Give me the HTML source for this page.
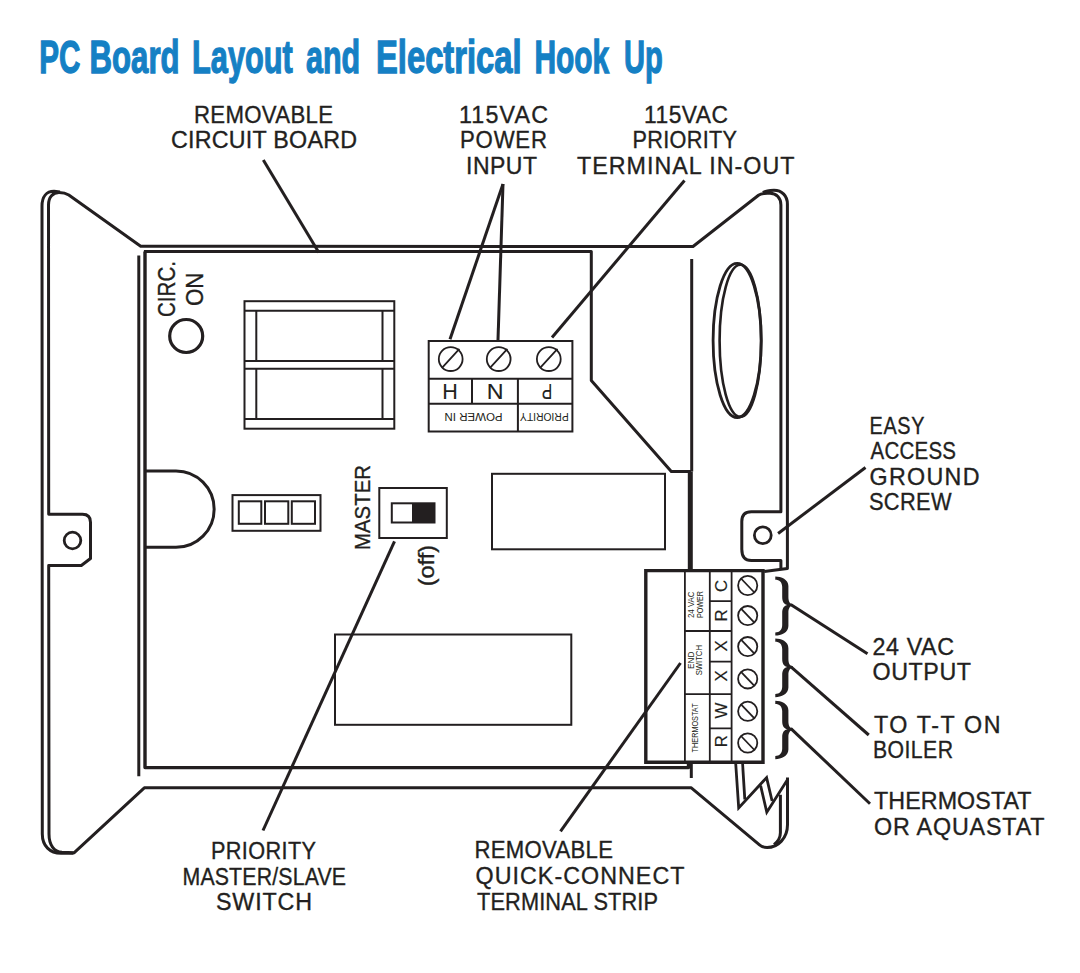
<!DOCTYPE html>
<html><head><meta charset="utf-8"><title>PC Board Layout and Electrical Hook Up</title>
<style>
html,body{margin:0;padding:0;background:#ffffff;overflow:hidden}
svg{display:block}
text{font-family:"Liberation Sans",sans-serif;fill:#231f20;stroke:#231f20;stroke-width:0.35px}
text.sm{stroke-width:0}
</style></head><body>
<svg width="1080" height="973" viewBox="0 0 1080 973">

<g fill="none" stroke="#231f20" stroke-width="3" stroke-linejoin="round" stroke-linecap="butt">
 <!-- left tab outer line -->
 <path d="M42.3,834 L42,206 C42,196.5 46.5,191.3 54,191.3 L60,192"/>
 <path d="M42.3,834 C42.3,846 50,853.3 61,853.3 L73.5,853.3"/>
 <!-- main outline: left inner, top diagonal, top, right diagonal, right inner, ground tab -->
 <path d="M49,834 L48.7,565.5 L81.3,565.5 L90.5,558.5 L90.5,522.3 Q90.5,514.3 82.5,514.3 L48.7,514.3 L48.5,205 C48.5,197 53,192.6 59,192.6 C63,192.6 66,193.3 68.8,195 L140.7,246.3 L693,246.5 L758.5,195.2 C762,192.8 765.5,193.3 770,193.3 C776.5,193.3 780.9,198 780.9,205 L780.9,511.7 L751.3,511.7 Q741.8,511.7 741.8,521.5 L741.8,549.2 Q741.8,560.5 751.3,560.5 L780.9,560.5 L780.9,569.5"/>
 <path d="M763,192.5 C766,190.5 770,190.2 774,190.2 C782,190.2 787.4,196 787.4,204 L787.4,568.6 L764.2,571.4"/>
 <!-- bottom outer -->
 <path d="M49,834 C49,845 54,851.7 62,852.3 L74,852.8 L144.3,787.8 L691.3,787.8 L759.5,844.8 C762,846.8 764.5,847.6 767.1,847.6 C778,847.6 787.5,838 787.5,824.7 L787.5,777.4"/>
 <path d="M780.4,794.8 L780.4,832.7 C780.4,837 778,841.5 774,844.6"/>
 <!-- left tab with hole -->
 <circle cx="72.5" cy="540.5" r="8.3" stroke-width="2.8"/>
 <circle cx="762.8" cy="535.3" r="8.4" stroke-width="2.8"/>
 <!-- board -->
 <path d="M143.9,251.6 L591.3,251.6 L591.3,380.5 L671.3,471.5 L691,471.5"/>
 <path d="M690.3,471.5 L690.3,570.5" stroke-width="5"/>
 <path d="M145,251.6 L145,767.6 L688.5,767.6 L688.5,762" stroke-width="3.4"/>
 <path d="M691.7,259 L691.7,471.5"/>
 <path d="M138.8,255.5 L138.8,776.3"/>
 <path d="M691.3,762 L691.3,778"/>
 <!-- circ on -->
 <circle cx="186.2" cy="336" r="16.5" stroke-width="3.2"/>
 <!-- D bump -->
 <path d="M145,471 L176,471 A38,38 0 0 1 176,547.3 L145,547.3"/>
 <!-- ellipses -->
 <ellipse cx="737.15" cy="340.5" rx="24.05" ry="77.1" stroke-width="2.8"/>
 <ellipse cx="740.4" cy="340.8" rx="20.8" ry="76" stroke-width="2.6"/>
</g>
<g fill="none" stroke="#231f20" stroke-width="2" stroke-linejoin="miter">
 <!-- relay -->
 <rect x="244.5" y="301.2" width="149.8" height="127.5"/>
 <path d="M244.5,310.7 H394.3 M244.5,361 H394.3 M244.5,368.8 H394.3 M244.5,418.9 H394.3 M256.3,310.7 V361 M256.3,368.8 V418.9 M382.5,310.7 V361 M382.5,368.8 V418.9"/>
 <!-- small connector -->
 <rect x="232.5" y="495.1" width="88" height="35.7"/>
 <rect x="238.8" y="501.3" width="22.5" height="22.5"/>
 <rect x="265" y="501.3" width="23.3" height="22.5"/>
 <rect x="291.8" y="501.3" width="23.2" height="22.5"/>
 <!-- master switch -->
 <rect x="379.3" y="488" width="67.5" height="50"/>
 <rect x="391.8" y="503.3" width="42.7" height="19.2"/>
 <!-- rects -->
 <rect x="492" y="473.8" width="173" height="75.5"/>
 <rect x="335" y="634.5" width="236.3" height="90.3"/>
 <!-- 115 block -->
 <rect x="428.7" y="341" width="143.7" height="90.5"/>
 <path d="M428.7,378.8 H572.4 M428.7,403.7 H572.4 M472,378.8 V403.7 M517.9,378.8 V431.5"/>
 <circle cx="450.7" cy="359.1" r="11.9" stroke-width="1.8"/>
 <circle cx="498.7" cy="359.1" r="11.9" stroke-width="1.8"/>
 <circle cx="548.8" cy="359.1" r="11.9" stroke-width="1.8"/>
 <path d="M442,367.8 L459.4,348.9 M490,367.8 L507.4,348.9 M540.1,367.8 L557.5,348.9" stroke-width="1.8"/>
 <!-- strip inner -->
 <path d="M684.9,570.5 V762 M709.8,570.5 V762 M731.6,570.5 V762" stroke-width="1.8"/>
 <path d="M709.8,601.2 H731.6 M684.9,631 H731.6 M709.8,661.7 H731.6 M684.9,694.2 H731.6 M709.8,728.3 H731.6" stroke-width="1.8"/>
</g>
<rect x="412" y="503.3" width="22.5" height="19.2" fill="#231f20"/>
<!-- strip outer -->
<path d="M645.8,762.2 L645.8,570.6 L763,570.6 L763,762.2 Z" fill="none" stroke="#231f20" stroke-width="3.4"/>
<!-- strip screws -->
<g fill="none" stroke="#231f20" stroke-width="1.8">
 <circle cx="747.7" cy="585.5" r="9.6"/>
 <path d="M741,578.5 L754.4,592.5"/>
 <circle cx="747.7" cy="615.6" r="9.6"/>
 <path d="M741,608.6 L754.4,622.6"/>
 <circle cx="747.7" cy="646.6" r="9.6"/>
 <path d="M741,639.6 L754.4,653.6"/>
 <circle cx="747.7" cy="678.9" r="9.6"/>
 <path d="M741,671.9 L754.4,685.9"/>
 <circle cx="747.7" cy="711.3" r="9.6"/>
 <path d="M741,704.3 L754.4,718.3"/>
 <circle cx="747.7" cy="743" r="9.6"/>
 <path d="M741,736.0 L754.4,750.0"/>
</g>
<path d="M775.3,576.5 C781.3,576.5 788.4,579.6 788.4,586.1 L788.4,596.9 C788.4,601.4 789.9,603.9 792.6,604.0 L792.6,605.8 C789.9,605.9 788.4,608.4 788.4,612.9 L788.4,626 C788.4,632.5 781.3,635.6 775.3,635.6 L775.3,632.4 C779.3,632.4 782.2,630 782.2,625 L782.2,612.9 C782.2,607.9 784.2,605.5 787.6,604.9 C784.2,604.3 782.2,601.9 782.2,596.9 L782.2,587.1 C782.2,582.1 779.3,579.7 775.3,579.7 Z" fill="#231f20"/>
<path d="M775.3,638.6 C781.3,638.6 788.4,641.7 788.4,648.2 L788.4,659 C788.4,663.5 789.9,666 792.6,666.1 L792.6,667.9 C789.9,668 788.4,670.5 788.4,675 L788.4,687.6 C788.4,694.1 781.3,697.2 775.3,697.2 L775.3,694.0 C779.3,694.0 782.2,691.6 782.2,686.6 L782.2,675 C782.2,670 784.2,667.6 787.6,667 C784.2,666.4 782.2,664 782.2,659 L782.2,649.2 C782.2,644.2 779.3,641.8000000000001 775.3,641.8000000000001 Z" fill="#231f20"/>
<path d="M775.3,700.6999999999999 C781.3,700.6999999999999 788.4,703.8 788.4,710.3 L788.4,721.3 C788.4,725.8 789.9,728.3 792.6,728.4 L792.6,730.1999999999999 C789.9,730.3 788.4,732.8 788.4,737.3 L788.4,749.6 C788.4,756.1 781.3,759.2 775.3,759.2 L775.3,756.0 C779.3,756.0 782.2,753.6 782.2,748.6 L782.2,737.3 C782.2,732.3 784.2,729.9 787.6,729.3 C784.2,728.6999999999999 782.2,726.3 782.2,721.3 L782.2,711.3 C782.2,706.3 779.3,703.9 775.3,703.9 Z" fill="#231f20"/>
<g stroke="#231f20" stroke-width="3" stroke-linecap="butt" fill="none">
 <line x1="263.3" y1="160" x2="318.8" y2="252.5"/>
 <line x1="503" y1="184" x2="450" y2="339.3"/>
 <line x1="503" y1="184" x2="498" y2="340"/>
 <line x1="684.5" y1="180.5" x2="552" y2="337.5"/>
 <line x1="865.5" y1="467.5" x2="778.1" y2="533.5"/>
 <line x1="790.7" y1="604.5" x2="867.5" y2="653.75"/>
 <line x1="790.7" y1="666.6" x2="868.75" y2="735"/>
 <line x1="790.7" y1="728.3" x2="870" y2="803.75"/>
 <line x1="394.5" y1="541.3" x2="263" y2="830.5"/>
 <line x1="680.5" y1="663" x2="560.5" y2="831.3"/>
</g>
<g fill="none" stroke="#231f20" stroke-width="2.8" stroke-linejoin="miter" stroke-miterlimit="10">
 <path d="M735.6,762 L738.7,808 L766.6,777.6 L772.1,801"/>
 <path d="M742.5,762 L744.8,799.5"/>
 <path d="M760.6,785.6 L766.8,812.2 L787.6,779.4"/>
</g>

<text x="39.20" y="72.60" font-size="46.5" textLength="41.20" lengthAdjust="spacingAndGlyphs" font-weight="bold" style="fill:#1580c4;stroke:#1580c4;stroke-width:1.3px">PC</text>
<text x="89.60" y="72.60" font-size="46.5" textLength="90.00" lengthAdjust="spacingAndGlyphs" font-weight="bold" style="fill:#1580c4;stroke:#1580c4;stroke-width:1.3px">Board</text>
<text x="192.00" y="72.60" font-size="46.5" textLength="100.80" lengthAdjust="spacingAndGlyphs" font-weight="bold" style="fill:#1580c4;stroke:#1580c4;stroke-width:1.3px">Layout</text>
<text x="306.00" y="72.60" font-size="46.5" textLength="54.20" lengthAdjust="spacingAndGlyphs" font-weight="bold" style="fill:#1580c4;stroke:#1580c4;stroke-width:1.3px">and</text>
<text x="376.00" y="72.60" font-size="46.5" textLength="145.60" lengthAdjust="spacingAndGlyphs" font-weight="bold" style="fill:#1580c4;stroke:#1580c4;stroke-width:1.3px">Electrical</text>
<text x="534.40" y="72.60" font-size="46.5" textLength="74.80" lengthAdjust="spacingAndGlyphs" font-weight="bold" style="fill:#1580c4;stroke:#1580c4;stroke-width:1.3px">Hook</text>
<text x="624.00" y="72.60" font-size="46.5" textLength="38.80" lengthAdjust="spacingAndGlyphs" font-weight="bold" style="fill:#1580c4;stroke:#1580c4;stroke-width:1.3px">Up</text>
<text transform="translate(194.00,123.00) scale(0.9245422796063075,1)" x="0" y="0" font-size="24" textLength="150.34" lengthAdjust="spacing">REMOVABLE</text>
<text transform="translate(171.00,148.00) scale(0.97,1)" x="0" y="0" font-size="24" textLength="191.75" lengthAdjust="spacing">CIRCUIT BOARD</text>
<text transform="translate(459.00,123.00) scale(0.97,1)" x="0" y="0" font-size="24" textLength="91.75" lengthAdjust="spacing">115VAC</text>
<text transform="translate(460.00,148.00) scale(0.9251550654720879,1)" x="0" y="0" font-size="24" textLength="94.04" lengthAdjust="spacing">POWER</text>
<text transform="translate(466.00,173.75) scale(0.9583333333333334,1)" x="0" y="0" font-size="24" textLength="74.09" lengthAdjust="spacing">INPUT</text>
<text transform="translate(644.00,123.00) scale(0.9495721827780812,1)" x="0" y="0" font-size="24" textLength="88.46" lengthAdjust="spacing">115VAC</text>
<text transform="translate(632.50,148.00) scale(0.9019986216402481,1)" x="0" y="0" font-size="24" textLength="115.85" lengthAdjust="spacing">PRIORITY</text>
<text transform="translate(577.00,173.75) scale(0.97,1)" x="0" y="0" font-size="24" textLength="224.23" lengthAdjust="spacing">TERMINAL IN-OUT</text>
<text transform="translate(869.50,434.25) scale(0.8273170731707317,1)" x="0" y="0" font-size="24" textLength="66.48" lengthAdjust="spacing">EASY</text>
<text transform="translate(870.50,459.25) scale(0.853434631212409,1)" x="0" y="0" font-size="24" textLength="100.18" lengthAdjust="spacing">ACCESS</text>
<text transform="translate(869.50,485.00) scale(0.97,1)" x="0" y="0" font-size="24" textLength="113.40" lengthAdjust="spacing">GROUND</text>
<text transform="translate(869.00,510.00) scale(0.9094088842252536,1)" x="0" y="0" font-size="24" textLength="90.72" lengthAdjust="spacing">SCREW</text>
<text transform="translate(872.50,655.00) scale(0.97,1)" x="0" y="0" font-size="24" textLength="84.02" lengthAdjust="spacing">24 VAC</text>
<text transform="translate(872.50,680.00) scale(0.97,1)" x="0" y="0" font-size="24" textLength="101.55" lengthAdjust="spacing">OUTPUT</text>
<text transform="translate(874.00,732.50) scale(0.97,1)" x="0" y="0" font-size="24" textLength="130.41" lengthAdjust="spacing">TO T-T ON</text>
<text transform="translate(873.00,758.25) scale(0.8858917480035492,1)" x="0" y="0" font-size="24" textLength="90.30" lengthAdjust="spacing">BOILER</text>
<text transform="translate(874.00,809.25) scale(0.9689009078616959,1)" x="0" y="0" font-size="24" textLength="162.56" lengthAdjust="spacing">THERMOSTAT</text>
<text transform="translate(874.00,835.00) scale(0.97,1)" x="0" y="0" font-size="24" textLength="175.77" lengthAdjust="spacing">OR AQUASTAT</text>
<text transform="translate(211.00,858.75) scale(0.9042039972432805,1)" x="0" y="0" font-size="24" textLength="116.12" lengthAdjust="spacing">PRIORITY</text>
<text transform="translate(182.50,884.50) scale(0.8871368583426172,1)" x="0" y="0" font-size="24" textLength="184.30" lengthAdjust="spacing">MASTER/SLAVE</text>
<text transform="translate(216.00,910.00) scale(0.97,1)" x="0" y="0" font-size="24" textLength="98.97" lengthAdjust="spacing">SWITCH</text>
<text transform="translate(474.50,858.25) scale(0.9228489787279077,1)" x="0" y="0" font-size="24" textLength="150.08" lengthAdjust="spacing">REMOVABLE</text>
<text transform="translate(475.50,883.75) scale(0.97,1)" x="0" y="0" font-size="24" textLength="215.46" lengthAdjust="spacing">QUICK-CONNECT</text>
<text transform="translate(477.00,910.00) scale(0.9073532896295711,1)" x="0" y="0" font-size="24" textLength="199.48" lengthAdjust="spacing">TERMINAL STRIP</text>
<text transform="translate(175.20,317.00) rotate(-90)" x="0" y="0" font-size="23.5" textLength="56.00" lengthAdjust="spacingAndGlyphs">CIRC.</text>
<text transform="translate(203.00,306.00) rotate(-90)" x="0" y="0" font-size="23.5" textLength="33.50" lengthAdjust="spacingAndGlyphs">ON</text>
<text transform="translate(370.00,549.90) rotate(-90)" x="0" y="0" font-size="22.8" textLength="84.80" lengthAdjust="spacingAndGlyphs">MASTER</text>
<text transform="translate(434.00,586.25) rotate(-90)" x="0" y="0" font-size="22" textLength="41.25" lengthAdjust="spacingAndGlyphs">(off)</text>
<text x="450.00" y="399.30" font-size="21.5" text-anchor="middle" style="stroke-width:0.1px">H</text>
<text x="495.10" y="399.30" font-size="21.5" textLength="16.80" lengthAdjust="spacingAndGlyphs" text-anchor="middle" style="stroke-width:0.1px">N</text>
<text transform="translate(546.90,384.30) rotate(180)" x="0" y="0" font-size="21.5" textLength="10.50" lengthAdjust="spacingAndGlyphs" text-anchor="middle" style="stroke-width:0.1px">P</text>
<text transform="translate(473.50,413.40) rotate(180)" x="0" y="0" font-size="11.5" textLength="58.20" lengthAdjust="spacingAndGlyphs" text-anchor="middle" class="sm">POWER IN</text>
<text transform="translate(544.35,413.40) rotate(180)" x="0" y="0" font-size="11.5" textLength="48.70" lengthAdjust="spacingAndGlyphs" text-anchor="middle" class="sm">PRIORITY</text>
<text transform="translate(727.10,586.00) rotate(-90)" x="0" y="0" font-size="16.8" text-anchor="middle" style="stroke-width:0.15px">C</text>
<text transform="translate(727.10,615.50) rotate(-90)" x="0" y="0" font-size="16.8" text-anchor="middle" style="stroke-width:0.15px">R</text>
<text transform="translate(727.10,645.90) rotate(-90)" x="0" y="0" font-size="16.8" text-anchor="middle" style="stroke-width:0.15px">X</text>
<text transform="translate(727.10,676.00) rotate(-90)" x="0" y="0" font-size="16.8" text-anchor="middle" style="stroke-width:0.15px">X</text>
<text transform="translate(727.10,710.60) rotate(-90)" x="0" y="0" font-size="16.8" text-anchor="middle" style="stroke-width:0.15px">W</text>
<text transform="translate(727.10,741.20) rotate(-90)" x="0" y="0" font-size="16.8" text-anchor="middle" style="stroke-width:0.15px">R</text>
<text transform="translate(693.60,604.75) rotate(-90)" x="0" y="0" font-size="8.7" textLength="26.50" lengthAdjust="spacingAndGlyphs" text-anchor="middle" class="sm">24 VAC</text>
<text transform="translate(702.60,604.50) rotate(-90)" x="0" y="0" font-size="8.7" textLength="27.00" lengthAdjust="spacingAndGlyphs" text-anchor="middle" class="sm">POWER</text>
<text transform="translate(693.70,660.25) rotate(-90)" x="0" y="0" font-size="8.7" textLength="17.30" lengthAdjust="spacingAndGlyphs" text-anchor="middle" class="sm">END</text>
<text transform="translate(702.40,660.20) rotate(-90)" x="0" y="0" font-size="8.7" textLength="30.30" lengthAdjust="spacingAndGlyphs" text-anchor="middle" class="sm">SWITCH</text>
<text transform="translate(698.00,727.90) rotate(-90)" x="0" y="0" font-size="8.3" textLength="49.00" lengthAdjust="spacingAndGlyphs" text-anchor="middle" class="sm">THERMOSTAT</text>
</svg>
</body></html>
